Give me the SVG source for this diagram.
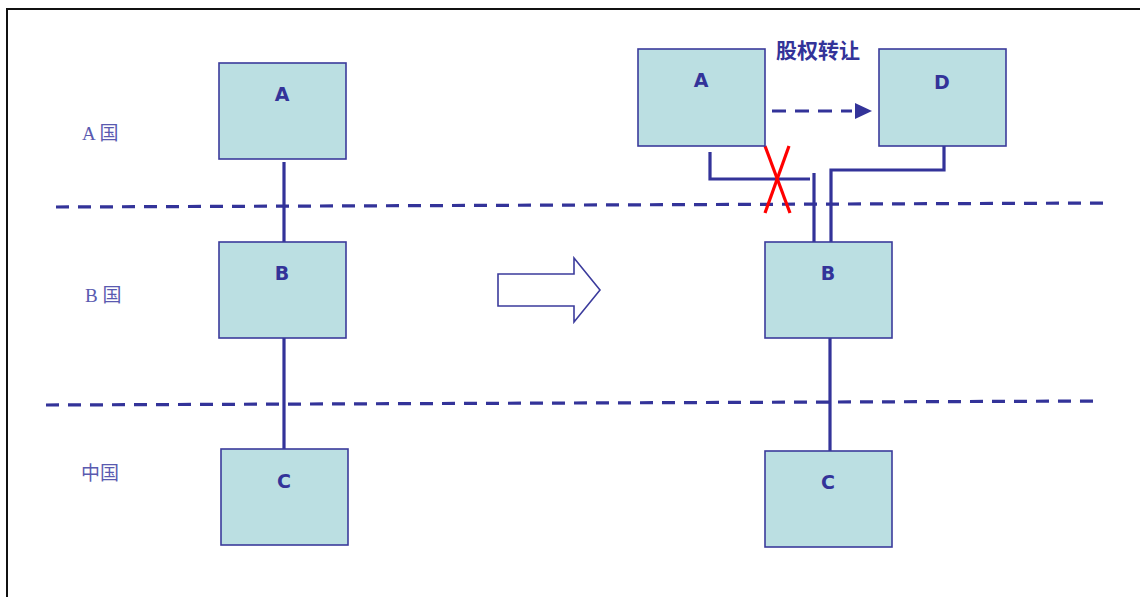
<svg xmlns="http://www.w3.org/2000/svg" width="1140" height="597" viewBox="0 0 1140 597">
<defs>
<style>
.box{fill:#bbdfe2;stroke:#3b3b9c;stroke-width:1.6}
.lbl{font-family:"DejaVu Sans","Noto Sans CJK SC",sans-serif;font-weight:bold;font-size:19px;fill:#333399;text-anchor:middle}
.ttl{font-family:"Noto Sans CJK SC",sans-serif;font-weight:bold;font-size:21px;fill:#333399;text-anchor:middle}
.cty{font-family:"Liberation Serif","Noto Sans CJK SC",serif;font-size:19px;fill:#5a5ab0}
.ln{stroke:#333399;stroke-width:3.2;fill:none}
.dash{stroke:#333399;stroke-width:3.2;fill:none;stroke-dasharray:13 9}
.red{stroke:#ff0000;stroke-width:3.2;fill:none}
</style>
</defs>
<rect x="0" y="0" width="1140" height="597" fill="#ffffff"/>
<rect x="7" y="9" width="1150" height="610" fill="none" stroke="#111111" stroke-width="2"/>

<g id="borders">
<line class="dash" x1="56" y1="207" x2="1110" y2="203"/>
<line class="dash" x1="46" y1="405" x2="1100" y2="401"/>
</g>

<g id="country-labels">
<text class="cty" x="82" y="140">A 国</text>
<text class="cty" x="85" y="302">B 国</text>
<text class="cty" x="81" y="480">中国</text>
</g>

<g id="connectors">
<line class="ln" x1="284" y1="162" x2="284" y2="242"/>
<line class="ln" x1="284" y1="338" x2="284" y2="449"/>
<line class="ln" x1="830" y1="338" x2="830" y2="451"/>
<polyline class="ln" points="710,152 710,179 810,179"/>
<line class="ln" x1="814" y1="173" x2="814" y2="244"/>
<polyline class="ln" points="944,146 944,170 831,170 831,242"/>
<line class="ln" x1="772" y1="111" x2="852" y2="111" stroke-dasharray="14 9"/>
<path d="M855,103 L872,111 L855,119 Z" fill="#333399"/>
<line class="red" x1="765" y1="146" x2="790" y2="213"/>
<line class="red" x1="789" y1="146" x2="765" y2="213"/>
</g>

<g id="transfer-arrow">
<polygon points="498,274 574,274 574,258 600,290 574,322 574,306 498,306" fill="#ffffff" stroke="#3b3b9c" stroke-width="1.6"/>
</g>

<g id="node-A-left"><rect class="box" x="219" y="63" width="127" height="96"/><text class="lbl" x="282" y="101">A</text></g>
<g id="node-B-left"><rect class="box" x="219" y="242" width="127" height="96"/><text class="lbl" x="282" y="280">B</text></g>
<g id="node-C-left"><rect class="box" x="221" y="449" width="127" height="96"/><text class="lbl" x="284" y="488">C</text></g>

<g id="node-A-right"><rect class="box" x="638" y="49" width="127" height="97"/><text class="lbl" x="701" y="87">A</text></g>
<g id="node-D-right"><rect class="box" x="879" y="49" width="127" height="97"/><text class="lbl" x="942" y="89">D</text></g>
<g id="node-B-right"><rect class="box" x="765" y="242" width="127" height="96"/><text class="lbl" x="828" y="280">B</text></g>
<g id="node-C-right"><rect class="box" x="765" y="451" width="127" height="96"/><text class="lbl" x="828" y="489">C</text></g>

<g id="title"><text class="ttl" x="818" y="58">股权转让</text></g>
</svg>
